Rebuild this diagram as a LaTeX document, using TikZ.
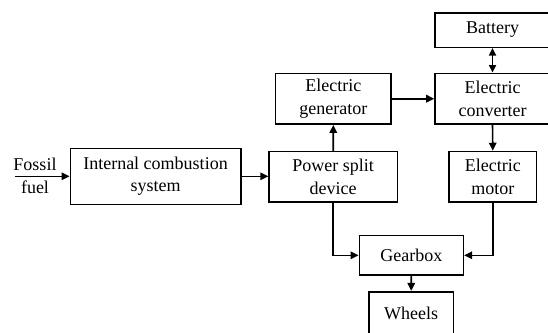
\documentclass[tikz,border=0pt]{standalone}
\usepackage{fontspec}
\setmainfont{Liberation Serif}
\usetikzlibrary{arrows.meta}
\tikzset{
  blk/.style={draw, line width=1.6pt, inner sep=0pt, align=center,
    font=\fontsize{18}{22.6}\selectfont},
  arr/.style={line width=1.6pt, -{Triangle[length=8pt,width=7.5pt]}},
  darr/.style={line width=1.6pt, {Triangle[length=7.5pt,width=7pt]}-{Triangle[length=7.5pt,width=7pt]}},
  lbl/.style={inner sep=0pt, align=center, font=\fontsize{18}{22.6}\selectfont}
}
\begin{document}
\begin{tikzpicture}[x=1pt,y=-1pt]
\useasboundingbox (0,0) rectangle (548,332);
\clip (0,0) rectangle (548,332);
\node[blk, minimum width=115pt, minimum height=34.6pt] (bat) at (492.5,30) {Battery};
\node[blk, minimum width=115pt, minimum height=50.7pt] (conv) at (492.5,98.7) {Electric\\converter};
\node[blk, minimum width=115.3pt, minimum height=50.7pt] (gen) at (333.3,98.7) {Electric\\generator};
\node[blk, minimum width=170.4pt, minimum height=56pt] (ice) at (155.5,176.3) {Internal combustion\\system};
\node[blk, minimum width=128.3pt, minimum height=50.5pt] (psd) at (333.2,176.8) {Power split\\device};
\node[blk, minimum width=87.7pt, minimum height=50.5pt] (mot) at (492.8,176.8) {Electric\\motor};
\node[blk, minimum width=104pt, minimum height=39.3pt] (gear) at (411.3,255.3) {Gearbox};
\node[blk, minimum width=84.3pt, minimum height=44pt] (whl) at (411.2,313.7) {Wheels};
\node[lbl] (fuel) at (35,176) {Fossil\\fuel};
\coordinate (fstart) at (15,176.3);
\draw[arr] (fstart) -- (ice.west);
\draw[arr] (ice.east) -- (ice.east -| psd.west);
\draw[arr] (psd.north) -- (gen.south);
\draw[arr] (gen.east) -- (gen.east -| conv.west);
\draw[darr] (bat.south) -- (conv.north);
\draw[arr] (conv.south) -- (mot.north);
\draw[arr] (psd.south) |- (gear.west);
\draw[arr] (mot.south) |- (gear.east);
\draw[arr] (gear.south) -- (whl.north);
\end{tikzpicture}
\end{document}
